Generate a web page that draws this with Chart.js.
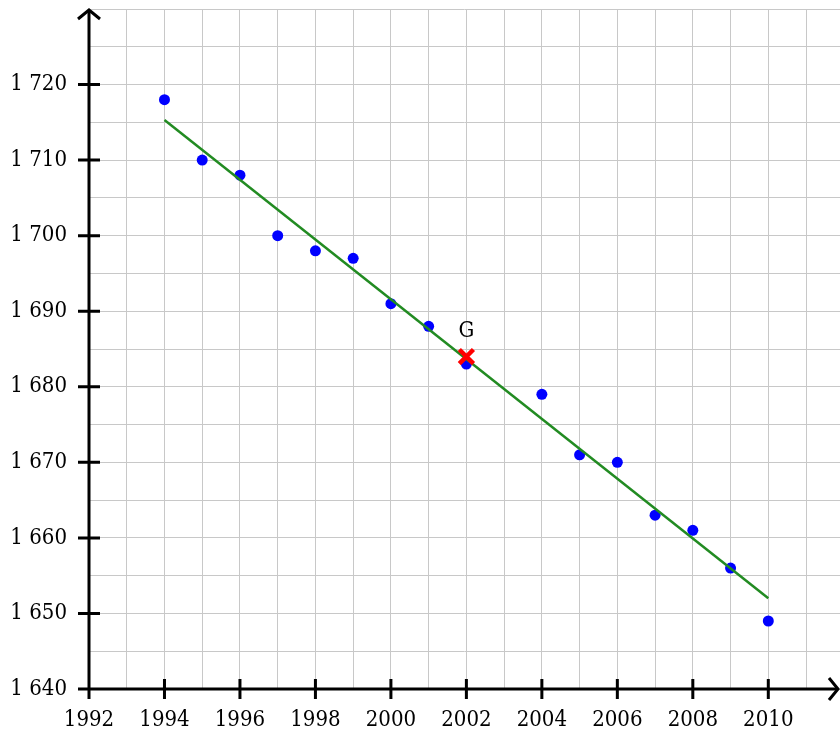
<!DOCTYPE html>
<html>
<head>
<meta charset="utf-8">
<script src="https://cdn.jsdelivr.net/npm/chart.js@4.4.0/dist/chart.umd.min.js"></script>
<style>
  html, body { margin: 0; padding: 0; background: #fff; }
  canvas { display: block; }
</style>
</head>
<body>
<canvas id="chart" width="840" height="732"></canvas>
<script>
// data
const years = [1994, 1995, 1996, 1997, 1998, 1999, 2000, 2001, 2002, 2004, 2005, 2006, 2007, 2008, 2009, 2010];
const values = [1718, 1710, 1708, 1700, 1698, 1697, 1691, 1688, 1683, 1679, 1671, 1670, 1663, 1661, 1656, 1649];
const fitYears = [1994, 2010];
const fitValues = [1715.3, 1652];
const meanPoint = { x: 2002, y: 1684, label: 'G' };

const xMajor = [1992, 1994, 1996, 1998, 2000, 2002, 2004, 2006, 2008, 2010];
const yMajor = [1640, 1650, 1660, 1670, 1680, 1690, 1700, 1710, 1720];

const serif = "'DejaVu Serif Condensed', 'DejaVu Serif', serif";

function fmtThousands(v) {
  const s = String(v);
  return s.length > 3 ? s.slice(0, s.length - 3) + ' ' + s.slice(-3) : s;
}

// axes with arrows, tick marks and the G label
const axesPlugin = {
  id: 'axesPlugin',
  afterDatasetsDraw(chart) {
    const ctx = chart.ctx;
    const xs = chart.scales.x;
    const ys = chart.scales.y;
    const ox = xs.getPixelForValue(1992);
    const oy = ys.getPixelForValue(1640);
    const top = chart.chartArea.top + 1;
    const right = chart.chartArea.right - 2;
    ctx.save();
    ctx.strokeStyle = '#000';
    ctx.lineWidth = 3;
    ctx.lineCap = 'butt';
    ctx.beginPath();
    ctx.moveTo(ox, oy);
    ctx.lineTo(ox, top);
    ctx.moveTo(ox, oy);
    ctx.lineTo(right, oy);
    xMajor.forEach((v) => {
      const px = xs.getPixelForValue(v);
      ctx.moveTo(px, oy - 10);
      ctx.lineTo(px, oy + 10);
    });
    yMajor.forEach((v) => {
      const py = ys.getPixelForValue(v);
      ctx.moveTo(ox - 11, py);
      ctx.lineTo(ox + 11, py);
    });
    ctx.stroke();
    // arrow heads
    ctx.lineJoin = 'miter';
    ctx.beginPath();
    ctx.moveTo(ox - 11, top + 9);
    ctx.lineTo(ox, top);
    ctx.lineTo(ox + 11, top + 9);
    ctx.moveTo(right - 9, oy - 11);
    ctx.lineTo(right, oy);
    ctx.lineTo(right - 9, oy + 11);
    ctx.stroke();
    // G label
    ctx.fillStyle = '#000';
    ctx.font = '22px ' + serif;
    ctx.textAlign = 'center';
    ctx.textBaseline = 'alphabetic';
    ctx.fillText(meanPoint.label, xs.getPixelForValue(meanPoint.x), ys.getPixelForValue(meanPoint.y) - 20);
    ctx.restore();
  },
};

const ctx = document.getElementById('chart');
new Chart(ctx, {
  type: 'scatter',
  data: {
    datasets: [
      {
        label: 'G',
        data: [{ x: meanPoint.x, y: meanPoint.y }],
        pointStyle: 'crossRot',
        pointRadius: 10,
        borderColor: '#ff0000',
        borderWidth: 4.5,
        order: 0,
      },
      {
        label: 'fit',
        type: 'line',
        data: fitYears.map((x, i) => ({ x: x, y: fitValues[i] })),
        borderColor: '#228b22',
        borderWidth: 2.5,
        pointRadius: 0,
        fill: false,
        order: 1,
      },
      {
        label: 'data',
        data: years.map((x, i) => ({ x: x, y: values[i] })),
        backgroundColor: '#0000ff',
        borderWidth: 0,
        pointRadius: 5.5,
        order: 2,
      },
    ],
  },
  options: {
    responsive: false,
    animation: false,
    layout: { autoPadding: false, padding: { top: 9, right: 0, left: 0, bottom: 0 } },
    plugins: {
      legend: { display: false },
      tooltip: { enabled: false },
    },
    scales: {
      x: {
        type: 'linear',
        min: 1992,
        max: 2011.9,
        afterFit(scale) {
          scale.height = 43;
          scale.paddingLeft = 0;
          scale.paddingRight = 0;
        },
        border: { display: false },
        grid: { color: '#c8c8c8', lineWidth: 1, drawTicks: false },
        ticks: {
          stepSize: 1,
          includeBounds: false,
          autoSkip: false,
          maxRotation: 0,
          padding: 18,
          color: '#000',
          font: { family: serif, size: 22 },
          callback: (v) => (xMajor.includes(v) ? String(v) : ''),
        },
      },
      y: {
        type: 'linear',
        min: 1640,
        max: 1730,
        afterFit(scale) {
          scale.width = 89;
          scale.paddingTop = 0;
          scale.paddingBottom = 0;
        },
        border: { display: false },
        grid: { color: '#c8c8c8', lineWidth: 1, drawTicks: false },
        ticks: {
          stepSize: 5,
          includeBounds: false,
          autoSkip: false,
          padding: 22,
          color: '#000',
          font: { family: serif, size: 22 },
          callback: (v) => (yMajor.includes(v) ? fmtThousands(v) : ''),
        },
      },
    },
  },
  plugins: [axesPlugin],
});
</script>
</body>
</html>
